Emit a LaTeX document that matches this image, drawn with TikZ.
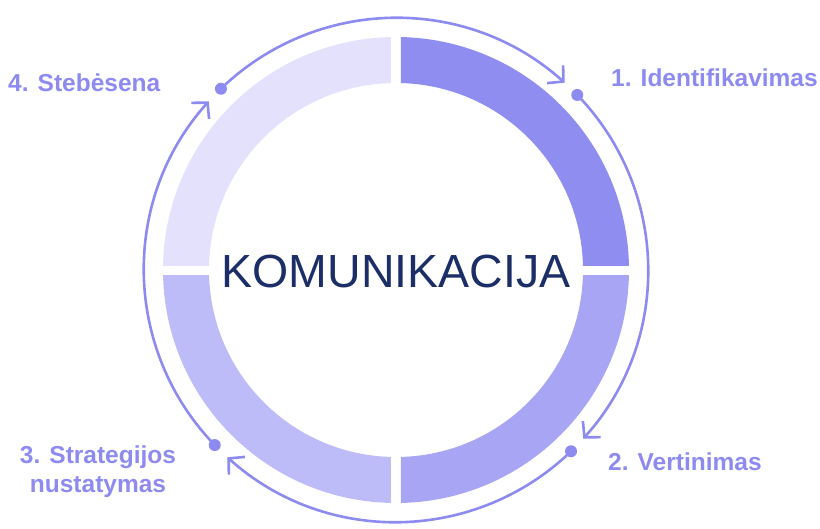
\documentclass[tikz,border=0pt]{standalone}
\usepackage{fontspec}
\setmainfont{Liberation Sans}
\usetikzlibrary{%
    arrows.meta,
    positioning
}
\definecolor{stepA}{HTML}{908DF1}
\definecolor{stepB}{HTML}{A8A5F5}
\definecolor{stepC}{HTML}{BEBCF8}
\definecolor{stepD}{HTML}{E3E1FC}
\definecolor{cyclecol}{HTML}{8E8BF0}
\definecolor{titlecol}{HTML}{1C2E68}
\tikzset{cyclearrow/.style = {cyclecol, line width=2.6pt, -{Straight Barb[length=11pt,width=24pt,line width=2.6pt]}}}
\tikzset{dot/.style = {circle, fill=cyclecol, inner sep=0pt, minimum size=12pt}}
\tikzset{steplabel/.style = {text=cyclecol, inner sep=0pt, font=\fontsize{24.5}{29}\selectfont\bfseries}}

\begin{document}
\begin{tikzpicture}[x=1pt, y=1pt]
    \useasboundingbox (-396,-258) rectangle (424,270);

    % ring in four parts
    \foreach \Sx/\Sy/\Col in {1/1/stepA, 1/-1/stepB, -1/-1/stepC, -1/1/stepD} {
        \begin{scope}
            \clip (5*\Sx,5*\Sy) rectangle (300*\Sx,300*\Sy);
            \fill[\Col, even odd rule] (0,0) circle (233) (0,0) circle (187);
        \end{scope}
    }

    \node (title) at (0,-1) {\fontsize{46.5}{52}\selectfont\color{titlecol}KOMUNIKACIJA};

    % dots on the outer circle
    \node[dot] (d1) at (44:252) {};
    \node[dot] (d2) at (-46:252) {};
    \node[dot] (d3) at (-136:252) {};
    \node[dot] (d4) at (134:252) {};

    \foreach \Source/\Angle in {d4/134, d1/44, d2/-46, d3/-136}
        \draw[cyclearrow] (\Source.center) arc[start angle=\Angle, delta angle=-86, radius=252];

    \node[steplabel, anchor=west] (lab1) at (215,192) {1. Identifikavimas};
    \node[steplabel, anchor=west] (lab2) at (212,-192) {2. Vertinimas};
    \node[steplabel, align=center] (lab3) at (-298,-202) {3. Strategijos\\nustatymas};
    \node[steplabel, anchor=west] (lab4) at (-388,187) {4. Stebėsena};
\end{tikzpicture}
\end{document}
